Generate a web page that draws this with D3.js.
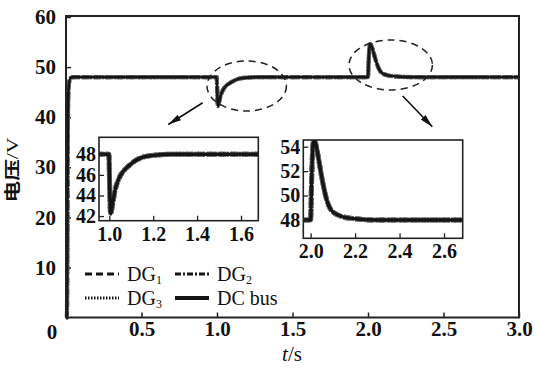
<!DOCTYPE html>
<html>
<head>
<meta charset="utf-8">
<script src="https://cdn.jsdelivr.net/npm/d3@7"></script>
<style>
  body { margin: 0; background: #fff; }
  svg { display: block; }
  text { font-family: "Liberation Serif", "Times New Roman", serif; fill: #111; }
</style>
</head>
<body>
<div id="chart"></div>
<script>
// simulated voltages, time in s
const time = [0, 0.006, 0.009, 0.012, 0.016, 0.022, 0.03, 0.045,
  0.998, 1.002, 1.006, 1.012, 1.025, 1.045, 1.07, 1.09, 1.12, 1.15, 1.2, 1.28,
  2.0, 2.004, 2.01, 2.015, 2.022, 2.033, 2.048, 2.07, 2.093, 2.138, 2.2, 2.3, 3.0];
const busV = [0, 0, 15, 38, 45, 47.2, 47.8, 48,
  48, 44.5, 42.2, 42.8, 44.4, 45.7, 46.5, 46.9, 47.4, 47.7, 47.9, 48,
  48, 51, 54, 54.6, 54.3, 53.3, 51.7, 49.8, 48.8, 48.3, 48.1, 48, 48];
// the three DG outputs sit on top of the bus voltage
const dg1V = busV;
const dg2V = busV;
const dg3V = busV;

const xTicks = [0.5, 1.0, 1.5, 2.0, 2.5, 3.0];
const yTicks = [10, 20, 30, 40, 50, 60];
const inset1XTicks = [1.0, 1.2, 1.4, 1.6];
const inset1YTicks = [42, 44, 46, 48];
const inset2XTicks = [2.0, 2.2, 2.4, 2.6];
const inset2YTicks = [48, 50, 52, 54];

const series = [
  { name: "DG", sub: "1", values: dg1V, dash: "7,4" },
  { name: "DG", sub: "2", values: dg2V, dash: "6,2,2,2" },
  { name: "DG", sub: "3", values: dg3V, dash: "1.5,1.5" },
  { name: "DC bus", sub: "", values: busV, dash: null },
];

const W = 535, H = 368;
const svg = d3.select("#chart").append("svg").attr("width", W).attr("height", H);

const defs = svg.append("defs");
defs.append("marker")
  .attr("id", "arrow")
  .attr("viewBox", "0 0 12 6")
  .attr("refX", 12).attr("refY", 3)
  .attr("markerWidth", 13).attr("markerHeight", 6.5)
  .attr("markerUnits", "userSpaceOnUse")
  .attr("orient", "auto")
  .append("path").attr("d", "M0,0L12,3L0,6Z").attr("fill", "#111");

const x = d3.scaleLinear().domain([0, 3]).range([66, 519]);
const y = d3.scaleLinear().domain([0, 60]).range([317.5, 17]);

const pts = s => time.map((t, i) => [t, s.values[i]]);

function drawSeries(g, xs, ys, w) {
  const line = d3.line().x(d => xs(d[0])).y(d => ys(d[1])).curve(d3.curveMonotoneX);
  series.forEach((s, i) => {
    g.append("path")
      .attr("d", line(pts(s)))
      .attr("fill", "none")
      .attr("stroke", i < 3 ? "#666" : "#151515")
      .attr("stroke-width", i < 3 ? w + 1.6 : w)
      .attr("stroke-dasharray", s.dash)
      .attr("stroke-linejoin", "round");
  });
}

// main axes
const gy = svg.append("g").attr("transform", `translate(${x(0)},0)`)
  .call(d3.axisLeft(y).tickValues(yTicks).tickSizeInner(-5).tickSizeOuter(0).tickPadding(10));
const gx = svg.append("g").attr("transform", `translate(0,${y(0)})`)
  .call(d3.axisBottom(x).tickValues(xTicks).tickFormat(d3.format(".1f"))
    .tickSizeInner(-5).tickSizeOuter(0).tickPadding(4));
[gx, gy].forEach(g => {
  g.select(".domain").remove();
  g.selectAll(".tick line").attr("stroke", "#222").attr("stroke-width", 1.5);
  g.selectAll(".tick text").attr("font-size", 21).attr("font-weight", "bold")
    .attr("font-family", "Liberation Serif, serif").attr("fill", "#111");
});
svg.append("text").attr("x", x(0) - 14).attr("y", y(0) + 21)
  .attr("text-anchor", "middle").attr("font-size", 21).attr("font-weight", "bold").text("0");

// main curves
drawSeries(svg.append("g"), x, y, 2.6);

svg.append("rect")
  .attr("x", 66).attr("y", 16).attr("width", 453).attr("height", 301.5)
  .attr("fill", "none").attr("stroke", "#222").attr("stroke-width", 2);

// dashed ellipses and arrows
svg.append("ellipse").attr("cx", 246.7).attr("cy", 86).attr("rx", 39.7).attr("ry", 25)
  .attr("fill", "none").attr("stroke", "#222").attr("stroke-width", 1.5).attr("stroke-dasharray", "7,5");
svg.append("ellipse").attr("cx", 390.7).attr("cy", 65).attr("rx", 41.7).attr("ry", 25)
  .attr("fill", "none").attr("stroke", "#222").attr("stroke-width", 1.5).attr("stroke-dasharray", "7,5");
svg.append("line").attr("x1", 202.7).attr("y1", 102.7).attr("x2", 168.3).attr("y2", 124.5)
  .attr("stroke", "#111").attr("stroke-width", 1.6).attr("marker-end", "url(#arrow)");
svg.append("line").attr("x1", 402.7).attr("y1", 96).attr("x2", 432.3).attr("y2", 126.7)
  .attr("stroke", "#111").attr("stroke-width", 1.6).attr("marker-end", "url(#arrow)");

// zoomed insets
function inset(id, box, xd, yd, xt, yt) {
  const xs = d3.scaleLinear().domain(xd).range([box.x0, box.x1]);
  const ys = d3.scaleLinear().domain(yd).range([box.y1, box.y0]);
  const g = svg.append("g");
  g.append("rect").attr("x", box.x0).attr("y", box.y0)
    .attr("width", box.x1 - box.x0).attr("height", box.y1 - box.y0).attr("fill", "#fff");
  defs.append("clipPath").attr("id", id).append("rect")
    .attr("x", box.x0).attr("y", box.y0).attr("width", box.x1 - box.x0).attr("height", box.y1 - box.y0);
  drawSeries(g.append("g").attr("clip-path", `url(#${id})`), xs, ys, 3.4);
  const ax = g.append("g").attr("transform", `translate(${box.x0},0)`)
    .call(d3.axisLeft(ys).tickValues(yt).tickSizeInner(-5).tickSizeOuter(0).tickPadding(3));
  const bx = g.append("g").attr("transform", `translate(0,${box.y1})`)
    .call(d3.axisBottom(xs).tickValues(xt).tickFormat(d3.format(".1f"))
      .tickSizeInner(-5).tickSizeOuter(0).tickPadding(6));
  [ax, bx].forEach(a => {
    a.select(".domain").remove();
    a.selectAll(".tick line").attr("stroke", "#222").attr("stroke-width", 1.3);
    a.selectAll(".tick text").attr("font-size", 20).attr("font-weight", "bold")
      .attr("font-family", "Liberation Serif, serif").attr("fill", "#111");
  });
  g.append("rect").attr("x", box.x0).attr("y", box.y0)
    .attr("width", box.x1 - box.x0).attr("height", box.y1 - box.y0)
    .attr("fill", "none").attr("stroke", "#222").attr("stroke-width", 1.6);
}
inset("clip1", { x0: 99, x1: 258.3, y0: 137.3, y1: 220.7 }, [0.953, 1.679], [41.55, 49.65], inset1XTicks, inset1YTicks);
inset("clip2", { x0: 303.3, x1: 462.7, y0: 140, y1: 238.3 }, [1.967, 2.684], [46.5, 54.55], inset2XTicks, inset2YTicks);

// legend
const legX = [85, 175], legY = [274, 298];
series.forEach((s, i) => {
  const lx = legX[i % 2], ly = legY[Math.floor(i / 2)];
  svg.append("line").attr("x1", lx).attr("x2", lx + 34).attr("y1", ly).attr("y2", ly)
    .attr("stroke", "#151515").attr("stroke-width", i === 3 ? 4 : 3.2)
    .attr("stroke-dasharray", s.dash);
  const t = svg.append("text").attr("x", lx + 42).attr("y", ly + 6.5).attr("font-size", 20).text(s.name);
  if (s.sub) t.append("tspan").attr("font-size", 12).attr("dy", 3).text(s.sub);
});

// axis titles
svg.append("text").attr("x", 292).attr("y", 361).attr("text-anchor", "middle").attr("font-size", 21)
  .html('<tspan font-style="italic">t</tspan>/s');
svg.append("text").attr("transform", "translate(18,170) rotate(-90)")
  .attr("text-anchor", "middle").attr("font-size", 16)
  .attr("textLength", 65).attr("lengthAdjust", "spacingAndGlyphs")
  .html('<tspan font-family="Noto Sans CJK SC" font-weight="bold">电压</tspan>/V');
</script>
</body>
</html>
